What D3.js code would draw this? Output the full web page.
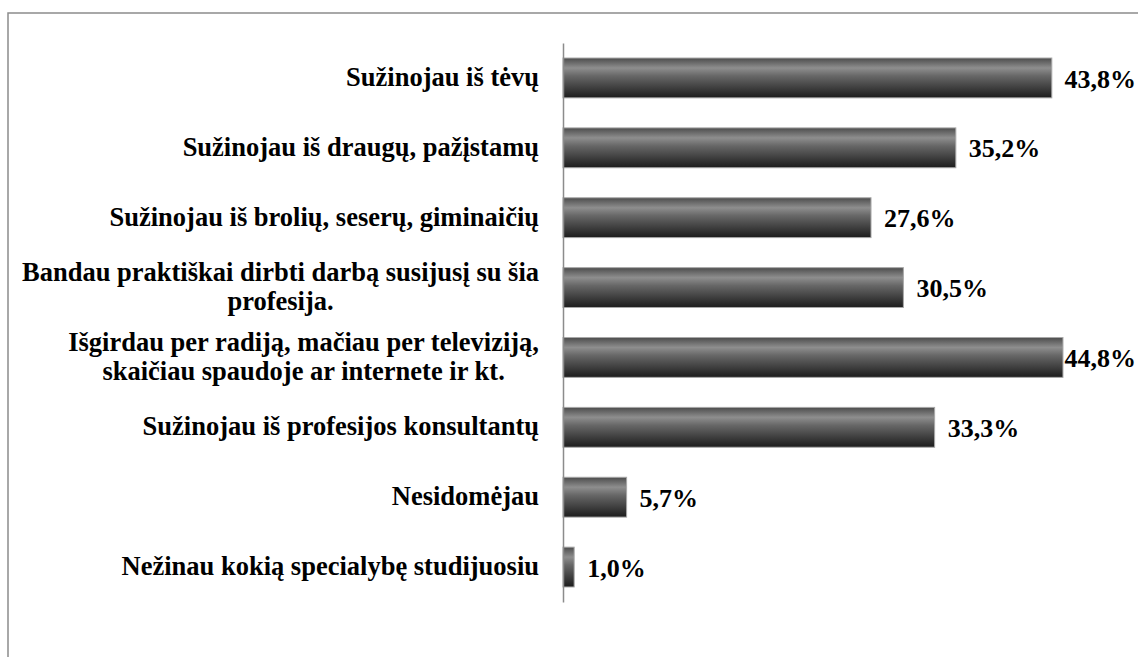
<!DOCTYPE html>
<html>
<head>
<meta charset="utf-8">
<script src="https://cdn.jsdelivr.net/npm/d3@7"></script>
<style>
body{margin:0;background:#fff;}
svg text{font-family:"Liberation Serif","Times New Roman","DejaVu Serif",serif;font-weight:bold;fill:#000;}
</style>
</head>
<body>
<script>
var width = 1138;
var height = 657;

var categories = ["Sužinojau iš tėvų",
"Sužinojau iš draugų, pažįstamų",
"Sužinojau iš brolių, seserų, giminaičių",
"Bandau praktiškai dirbti darbą susijusį su šia\nprofesija.",
"Išgirdau per radiją, mačiau per televiziją,\nskaičiau spaudoje ar internete ir kt.",
"Sužinojau iš profesijos konsultantų",
"Nesidomėjau",
"Nežinau kokią specialybę studijuosiu"];

var values = [43.8,35.2,27.6,30.5,44.8,33.3,5.7,1.0];

var valueLabels = ["43,8%","35,2%","27,6%","30,5%","44,8%","33,3%","5,7%","1,0%"];

var axisX = 563;
var labelRight = 539;

var svg = d3.select("body")
.append("svg")
.attr("width",width)
.attr("height",height);

// outer frame (runs past right/bottom edge like the original)
svg.append("rect")
.attr("x",8)
.attr("y",13)
.attr("width",width + 20)
.attr("height",height + 20)
.attr("fill","none")
.attr("stroke","#8c8c8c")
.attr("stroke-width",1.5);

var defs = svg.append("defs");
var grad = defs.append("linearGradient")
.attr("id","barGrad")
.attr("x1",0).attr("y1",0)
.attr("x2",0).attr("y2",1);
grad.append("stop").attr("offset","0%").attr("stop-color","#4c4c4c");
grad.append("stop").attr("offset","25%").attr("stop-color","#8e8e8e");
grad.append("stop").attr("offset","45%").attr("stop-color","#676767");
grad.append("stop").attr("offset","100%").attr("stop-color","#1c1c1c");

var xScale = d3.scaleLinear()
.domain([0,50])
.range([axisX,axisX + 558]);

var yScale = d3.scaleBand()
.domain(categories)
.range([43,602])
.paddingInner(0.43)
.paddingOuter(0.215);

svg.selectAll(".bar")
.data(values)
.enter()
.append("rect")
.attr("class","bar")
.attr("x",xScale(0))
.attr("y",function(d,i){
	return yScale(categories[i]);
})
.attr("width",function(d){
	return xScale(d) - xScale(0);
})
.attr("height",yScale.bandwidth())
.attr("fill","url(#barGrad)")
.attr("stroke","#a8a8a8")
.attr("stroke-width",1);

// vertical category axis, no ticks
var yAxis = d3.axisLeft(yScale).tickSize(0).tickFormat("");

svg.append("g")
.attr("class","axis")
.attr("transform","translate(" + axisX + ",0)")
.call(yAxis)
.call(function(g){
	g.select(".domain").attr("stroke","#8c8c8c").attr("stroke-width",1.5);
});

// category labels: block right-aligned at labelRight, lines centred inside it
var labelG = svg.append("g").attr("class","catLabels");

categories.forEach(function(d){
	var lines = d.split("\n");
	var cy = yScale(d) + yScale.bandwidth()/2;
	var lineH = 29;
	var nodes = lines.map(function(line,j){
		return labelG.append("text")
		.attr("font-size","26.5px")
		.attr("y",cy + (j - (lines.length - 1)/2) * lineH)
		.attr("dy","0.3em")
		.text(line);
	});
	var widths = nodes.map(function(n){ return n.node().getComputedTextLength(); });
	var maxW = d3.max(widths);
	var mid = labelRight - maxW/2;
	nodes.forEach(function(n,j){
		n.attr("x",mid - widths[j]/2);
	});
});

svg.selectAll(".valLabel")
.data(values)
.enter()
.append("text")
.attr("class","valLabel")
.attr("font-size","26px")
.attr("y",function(d,i){
	return yScale(categories[i]) + yScale.bandwidth()/2;
})
.attr("dy","0.37em")
.text(function(d,i){
	return valueLabels[i];
})
.attr("x",function(d){
	// keep label inside the picture, as the original does for the longest bar
	var w = this.getComputedTextLength();
	return Math.min(xScale(d) + 13, width - w - 2);
});
</script>
</body>
</html>
